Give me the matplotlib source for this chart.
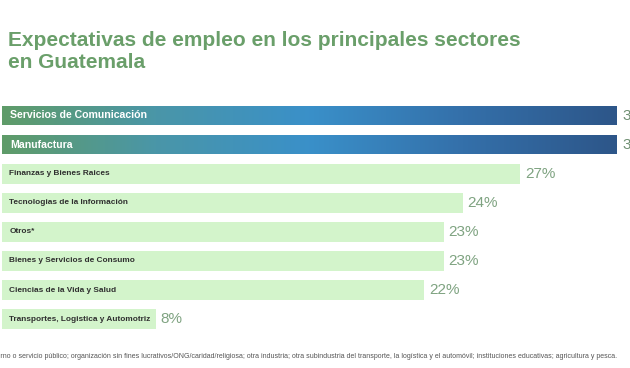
import numpy as np
import matplotlib
matplotlib.use("Agg")
import matplotlib.pyplot as plt
from matplotlib.colors import LinearSegmentedColormap

plt.rcParams['font.family'] = ['Liberation Sans', 'DejaVu Sans']

categories = [
    "Servicios de Comunicación",
    "Manufactura",
    "Finanzas y Bienes Raices",
    "Tecnologias de la Información",
    "Otros*",
    "Bienes y Servicios de Consumo",
    "Ciencias de la Vida y Salud",
    "Transportes, Logistica y Automotriz",
]
values = [32, 32, 27, 24, 23, 23, 22, 8]
value_labels = ["32%", "32%", "27%", "24%", "23%", "23%", "22%", "8%"]
highlight = [True, True, False, False, False, False, False, False]

title_lines = ["Expectativas de empleo en los principales sectores", "en Guatemala"]
footnote = ("*Gobierno o servicio público; organización sin fines lucrativos/ONG/caridad/religiosa; "
            "otra industria; otra subindustria del transporte, la logística y el automóvil; "
            "instituciones educativas; agricultura y pesca.")

W, H = 630, 368
fig = plt.figure(figsize=(W / 100, H / 100), dpi=100)
fig.patch.set_facecolor("white")

px_per_unit = 19.2
left_px = 2
xmax = (W - 4 - left_px) / px_per_unit
top_px, spacing = 115.5, 29.1
y_top = top_px - spacing / 2
y_bot = top_px + spacing * (len(categories) - 0.5)
ax = fig.add_axes([left_px / W, 1 - y_bot / H, (xmax * px_per_unit) / W, (y_bot - y_top) / H])
ax.set_xlim(0, xmax)
ax.set_ylim(len(categories) - 0.5, -0.5)
ax.axis("off")

cmap = LinearSegmentedColormap.from_list(
    "grad", ["#5f9c69", "#4a96a8", "#3a90c9", "#3470aa", "#2d5689"])
light = "#d3f4cb"
bh = 0.68
grad = np.linspace(0, 1, 256).reshape(1, -1)

for i, (cat, v, lab, hl) in enumerate(zip(categories, values, value_labels, highlight)):
    if hl:
        b = ax.barh(i, v, height=bh, color="none", edgecolor="none")[0]
        im = ax.imshow(grad, extent=[0, v, i + bh / 2, i - bh / 2], aspect="auto",
                       cmap=cmap, zorder=1)
        im.set_clip_path(b)
        ax.text(0.42, i, cat, va="center", ha="left", color="white",
                fontsize=7.6, fontweight="bold", zorder=3)
        ax.text(v + 0.3, i, lab, va="center", ha="left", color="#6f8f72",
                fontsize=11, zorder=3, clip_on=False)
    else:
        ax.barh(i, v, height=bh, color=light, edgecolor="none", zorder=1)
        ax.text(0.38, i, cat, va="center", ha="left", color="#2f2f2f",
                fontsize=5.95, fontweight="bold", zorder=3)
        ax.text(v + 0.25, i, lab, va="center", ha="left", color="#7fa381",
                fontsize=11, zorder=3, clip_on=False)

ax.set_ylim(len(categories) - 0.5, -0.5)
ax.set_xlim(0, xmax)

for k, (line, base) in enumerate(zip(title_lines, [46, 68])):
    fig.text(8 / W, 1 - base / H, line, ha="left", va="baseline", color="#6a9f6a",
             fontsize=15, fontweight="bold")
fig.text(617 / W, 1 - 357 / H, footnote, ha="right", va="center", color="#555555",
         fontsize=5.0)

fig.savefig("out.png", dpi=100, facecolor="white")
